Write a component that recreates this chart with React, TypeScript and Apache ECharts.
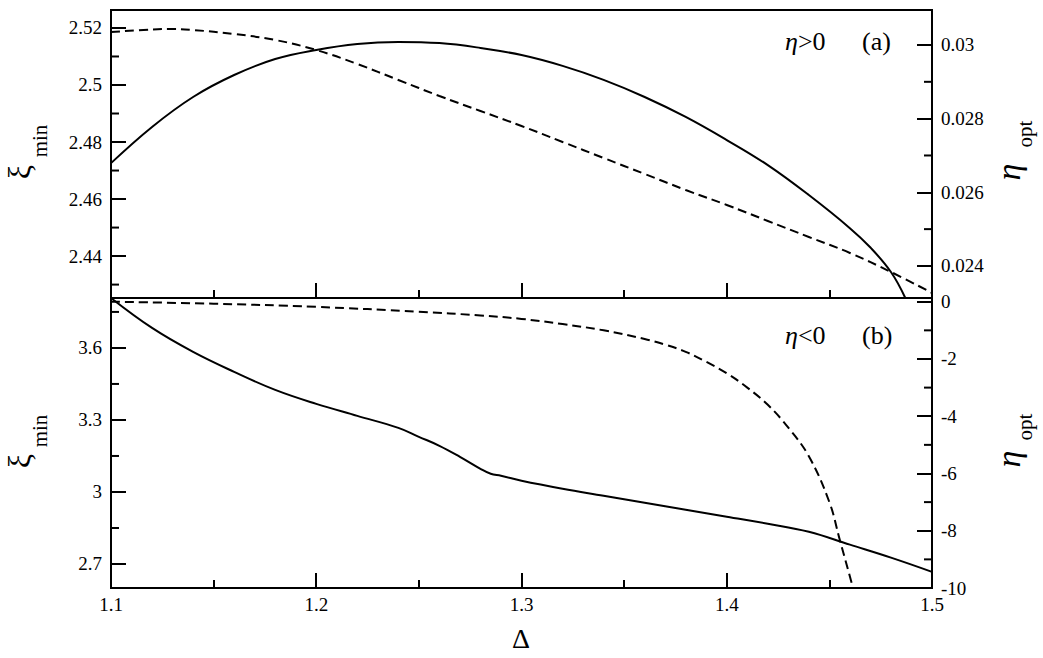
import React, { useEffect, useRef } from "react";
import * as echarts from "echarts";

// ---- Data ----
const deltaTopSolid = [1.10, 1.12, 1.14, 1.16, 1.18, 1.20, 1.22, 1.24, 1.26, 1.28, 1.30, 1.32, 1.34, 1.36, 1.38, 1.40, 1.42, 1.44, 1.46, 1.47, 1.48, 1.487];
const xiTop = [2.4726, 2.4853, 2.4958, 2.5035, 2.5091, 2.5123, 2.5144, 2.5151, 2.5147, 2.5130, 2.5105, 2.5067, 2.5018, 2.4958, 2.4888, 2.4807, 2.4719, 2.4614, 2.4498, 2.443, 2.4344, 2.4253];

const deltaTopDashed = [1.10, 1.12, 1.13, 1.14, 1.16, 1.18, 1.20, 1.22, 1.24, 1.26, 1.28, 1.30, 1.32, 1.34, 1.36, 1.38, 1.40, 1.42, 1.44, 1.46, 1.48, 1.50];
const etaTop = [0.030353, 0.030421, 0.030434, 0.030407, 0.030299, 0.030136, 0.029864, 0.029484, 0.02905, 0.028615, 0.028208, 0.027801, 0.027367, 0.026932, 0.026498, 0.026063, 0.025656, 0.025222, 0.024787, 0.024353, 0.023837, 0.023267];

const deltaBotSolid = [1.10, 1.12, 1.14, 1.16, 1.18, 1.20, 1.22, 1.24, 1.25, 1.26, 1.27, 1.28, 1.285, 1.29, 1.30, 1.32, 1.34, 1.36, 1.38, 1.40, 1.42, 1.44, 1.46, 1.48, 1.50];
const xiBot = [3.808, 3.6832, 3.5834, 3.5002, 3.4253, 3.3671, 3.3171, 3.2672, 3.2298, 3.1924, 3.1466, 3.0967, 3.0759, 3.0676, 3.0468, 3.0135, 2.9844, 2.9552, 2.926, 2.8968, 2.8677, 2.8343, 2.7805, 2.7265, 2.6672];

const deltaBotDashed = [1.10, 1.15, 1.20, 1.25, 1.28, 1.30, 1.32, 1.34, 1.36, 1.37, 1.38, 1.39, 1.40, 1.41, 1.42, 1.43, 1.44, 1.45, 1.455, 1.46, 1.4615];
const etaBot = [0, -0.07, -0.18, -0.35, -0.48, -0.6, -0.78, -1.0, -1.3, -1.5, -1.75, -2.1, -2.5, -3.0, -3.6, -4.4, -5.4, -7.0, -8.3, -9.6, -10];

const topLeftTicks = [2.44, 2.46, 2.48, 2.5, 2.52];
const topLeftMinor = [2.43, 2.45, 2.47, 2.49, 2.51];
const topRightTicks = [0.024, 0.026, 0.028, 0.03];
const topRightMinor = [0.025, 0.027, 0.029];
const botLeftTicks = [2.7, 3, 3.3, 3.6];
const botLeftMinor = [2.85, 3.15, 3.45, 3.75];
const botRightTicks = [-10, -8, -6, -4, -2, 0];
const botRightMinor = [-9, -7, -5, -3, -1];

const FAM = "Liberation Serif";
const MAJOR = 15;
const MINOR = 8;

function pairs(xs: number[], ys: number[]) {
  return xs.map((x, i) => [x, ys[i]]);
}

function yAxisDef(grid: number, pos: "left" | "right", min: number, max: number, major: number[]) {
  return {
    type: "value",
    gridIndex: grid,
    position: pos,
    min,
    max,
    splitLine: { show: false },
    axisLine: { show: true, onZero: false, lineStyle: { color: "#000", width: 2 } },
    axisTick: { show: true, inside: true, length: MAJOR, customValues: major, lineStyle: { color: "#000", width: 2 } },
    axisLabel: {
      show: true,
      customValues: major,
      color: "#000",
      fontFamily: FAM,
      fontSize: 19,
      margin: 9,
    },
  };
}

function xAxisDef(grid: number, showLabels: boolean) {
  return {
    type: "value",
    gridIndex: grid,
    position: "bottom",
    min: 1.1,
    max: 1.5,
    interval: 0.1,
    splitLine: { show: false },
    minorSplitLine: { show: false },
    axisLine: { show: true, onZero: false, lineStyle: { color: "#000", width: 2 } },
    axisTick: { show: true, inside: true, length: MAJOR, lineStyle: { color: "#000", width: 2 } },
    minorTick: { show: true, splitNumber: 2, length: MINOR, lineStyle: { color: "#000", width: 2 } },
    axisLabel: {
      show: showLabels,
      color: "#000",
      fontFamily: FAM,
      fontSize: 19,
      margin: 7,
      showMinLabel: true,
      showMaxLabel: true,
      formatter: (v: number) => v.toFixed(1),
    },
  };
}

// custom series drawing the short (minor) inward ticks of a vertical axis
function minorTickSeries(xIdx: number, yIdx: number, edge: number, values: number[], len: number) {
  return {
    type: "custom",
    xAxisIndex: xIdx,
    yAxisIndex: yIdx,
    silent: true,
    encode: { x: 0, y: 1 },
    data: values.map((v) => [edge, v]),
    renderItem: (_params: any, api: any) => {
      const p = api.coord([api.value(0), api.value(1)]);
      return {
        type: "line",
        shape: { x1: p[0], y1: p[1], x2: p[0] + len, y2: p[1] },
        style: { stroke: "#000", lineWidth: 2 },
      };
    },
  };
}

function txt(x: number, y: number, text: string, size: number, opts: any = {}) {
  return {
    type: "text",
    x,
    y,
    rotation: opts.rot || 0,
    style: {
      text,
      fontFamily: FAM,
      fontSize: size,
      fontStyle: opts.italic ? "italic" : "normal",
      fill: "#000",
      align: opts.align || "center",
      verticalAlign: "middle",
      rich: opts.rich,
    },
  };
}

export default function App() {
  const ref = useRef<HTMLDivElement>(null);
  useEffect(() => {
    if (!ref.current) return;
    const chart = echarts.init(ref.current, null, { renderer: "svg" });
    const lineSolid = { color: "#000", width: 2 };
    const lineDashed = { color: "#000", width: 2, type: [9, 5] };
    const R = Math.PI / 2;
    const richEta = {
      e: { fontStyle: "italic", fontSize: 26, fontFamily: FAM, fill: "#000" },
      n: { fontSize: 26, fontFamily: FAM, fill: "#000" },
    };
    const option = {
      animation: false,
      backgroundColor: "#fff",
      textStyle: { fontFamily: FAM },
      grid: [
        { left: 111, width: 821, top: 10, height: 288, show: true, borderColor: "#000", borderWidth: 2, containLabel: false },
        { left: 111, width: 821, top: 298, height: 290, show: true, borderColor: "#000", borderWidth: 2, containLabel: false },
      ],
      xAxis: [xAxisDef(0, false), xAxisDef(1, true)],
      yAxis: [
        yAxisDef(0, "left", 2.4253, 2.5263, topLeftTicks),
        yAxisDef(0, "right", 0.02313, 0.03095, topRightTicks),
        yAxisDef(1, "left", 2.6, 3.808, botLeftTicks),
        yAxisDef(1, "right", -10, 0.13, botRightTicks),
      ],
      series: [
        { type: "line", xAxisIndex: 0, yAxisIndex: 0, data: pairs(deltaTopSolid, xiTop), smooth: 0.4, showSymbol: false, lineStyle: lineSolid },
        { type: "line", xAxisIndex: 0, yAxisIndex: 1, data: pairs(deltaTopDashed, etaTop), smooth: 0.4, showSymbol: false, lineStyle: lineDashed },
        { type: "line", xAxisIndex: 1, yAxisIndex: 2, data: pairs(deltaBotSolid, xiBot), smooth: 0.4, showSymbol: false, lineStyle: lineSolid },
        { type: "line", xAxisIndex: 1, yAxisIndex: 3, data: pairs(deltaBotDashed, etaBot), smooth: 0.4, showSymbol: false, lineStyle: lineDashed },
        minorTickSeries(0, 0, 1.1, topLeftMinor, MINOR),
        minorTickSeries(0, 1, 1.5, topRightMinor, -MINOR),
        minorTickSeries(1, 2, 1.1, botLeftMinor, MINOR),
        minorTickSeries(1, 3, 1.5, botRightMinor, -MINOR),
      ],
      graphic: [
        txt(19, 172, "ξ", 32, { rot: R }),
        txt(40, 141, "min", 21, { rot: R }),
        txt(19, 461, "ξ", 32, { rot: R }),
        txt(40, 431, "min", 21, { rot: R }),
        txt(1008, 172, "η", 34, { rot: R, italic: true }),
        txt(1025, 134, "opt", 21, { rot: R }),
        txt(1008, 459, "η", 34, { rot: R, italic: true }),
        txt(1025, 427, "opt", 21, { rot: R }),
        txt(521, 638, "Δ", 28),
        txt(785, 41, "{e|η}{n|>0}", 26, { align: "left", rich: richEta }),
        txt(862, 41, "(a)", 26, { align: "left" }),
        txt(785, 335, "{e|η}{n|<0}", 26, { align: "left", rich: richEta }),
        txt(862, 335, "(b)", 26, { align: "left" }),
      ],
    };
    chart.setOption(option as any);
    return () => chart.dispose();
  }, []);
  return <div ref={ref} style={{ position: "fixed", left: 0, top: 0, width: 1043, height: 658 }} />;
}
